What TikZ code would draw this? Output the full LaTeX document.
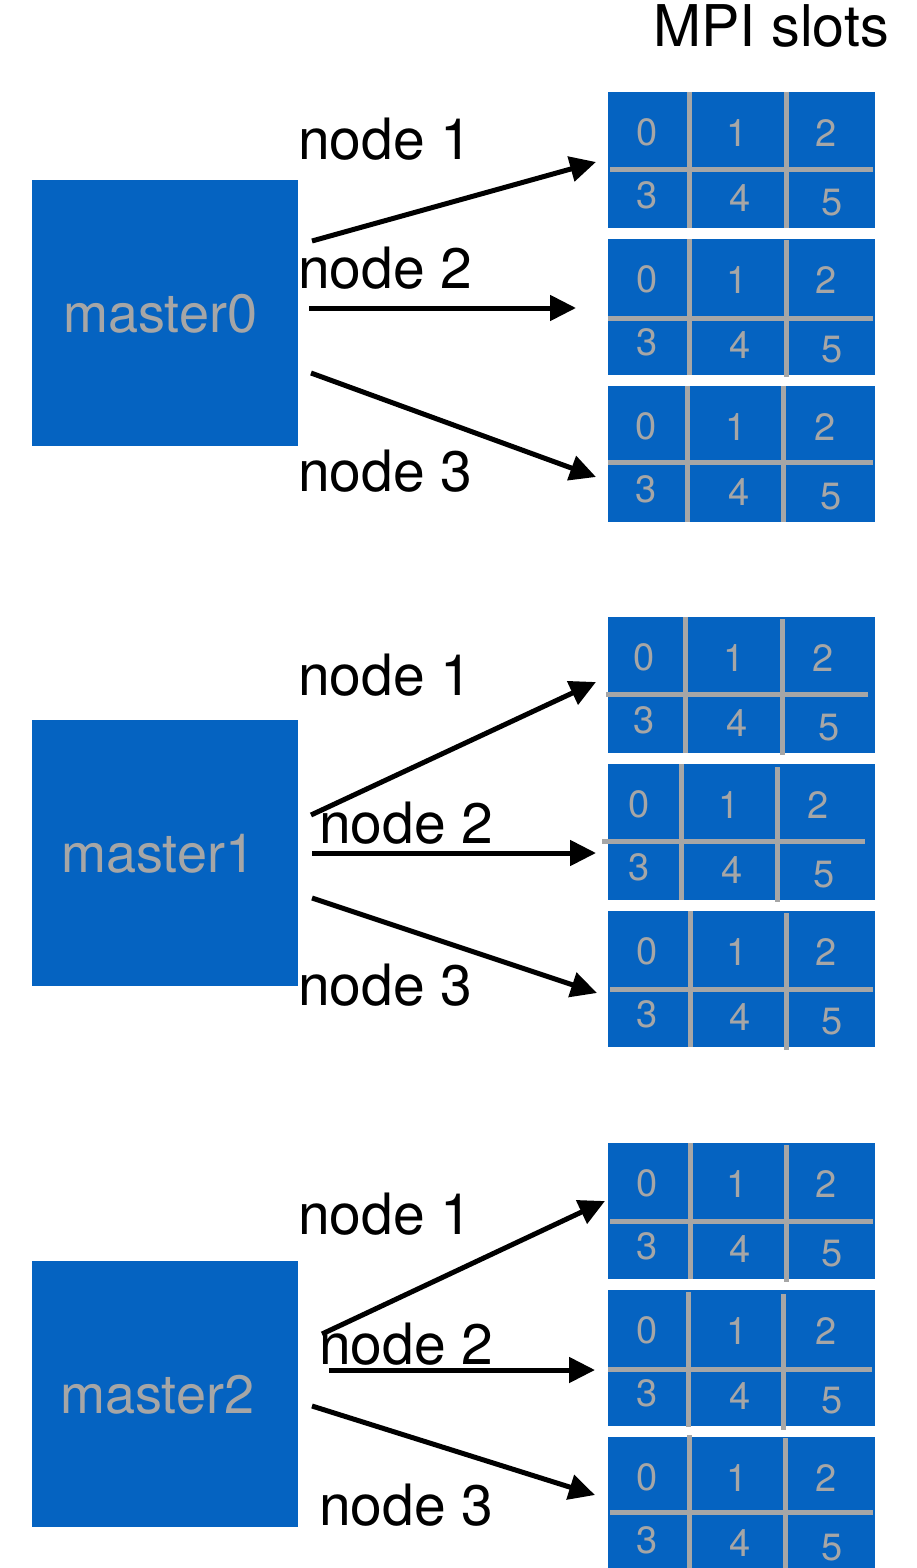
\documentclass[tikz,border=0pt]{standalone}
\usepackage{fontspec}
\setmainfont{TeX Gyre Heros}
\usetikzlibrary{arrows.meta}
\definecolor{slotblue}{RGB}{5,99,193}
\definecolor{slotgray}{RGB}{166,166,166}

% six slot numbers of one block: #1 block top, #2 horizontal shift, #3 name prefix
\newcommand\slotdigits[3]{%
  \node[digit] (#3n0) at ({647+#2},{#1+40})  {0};
  \node[digit] (#3n1) at ({737+#2},{#1+41})  {1};
  \node[digit] (#3n2) at ({826+#2},{#1+41})  {2};
  \node[digit] (#3n3) at ({647+#2},{#1+103}) {3};
  \node[digit] (#3n4) at ({740+#2},{#1+106}) {4};
  \node[digit] (#3n5) at ({832+#2},{#1+111}) {5};
}

\begin{document}
\begin{tikzpicture}[x=1pt,y=-1pt,
  masterbox/.style={fill=slotblue, draw=none, minimum width=266pt, minimum height=266pt, inner sep=0pt},
  slotbox/.style={fill=slotblue, draw=none, minimum width=267pt, minimum height=136pt, inner sep=0pt},
  mastertext/.style={text=slotgray, font=\fontsize{54}{60}\selectfont, inner sep=0pt, anchor=base west},
  nodelabel/.style={text=black, font=\fontsize{57}{60}\selectfont, inner sep=0pt, anchor=base west},
  digit/.style={text=slotgray, font=\fontsize{38}{40}\selectfont, inner sep=0pt},
  divider/.style={draw=slotgray, line width=5pt},
  arr/.style={draw=black, line width=5pt, -{Triangle[length=26pt,width=25pt]}}
]
\useasboundingbox (0,0) rectangle (916,1568);

% heading
\node[nodelabel, font=\fontsize{57.5}{60}\selectfont] (title) at (653,47) {MPI slots};

% master boxes
\node[masterbox] (m0) at (165,312.5) {};
\node[masterbox] (m1) at (165,853) {};
\node[masterbox] (m2) at (165,1393.5) {};
\node[mastertext] (m0t) at (63,332) {master0};
\node[mastertext] (m1t) at (61,872) {master1};
\node[mastertext] (m2t) at (60,1413) {master2};

% slot blocks
\node[slotbox] (g0b1) at (741.5,160) {};
\node[slotbox] (g0b2) at (741.5,307) {};
\node[slotbox] (g0b3) at (741.5,454) {};
\node[slotbox] (g1b1) at (741.5,685) {};
\node[slotbox] (g1b2) at (741.5,832) {};
\node[slotbox] (g1b3) at (741.5,979) {};
\node[slotbox] (g2b1) at (741.5,1211) {};
\node[slotbox] (g2b2) at (741.5,1358) {};
\fill[slotblue] (608,1437) rectangle (875,1568);

% dividers inside the blocks
\draw[divider] (610,169.5) -- (873,169.5);
\draw[divider] (689,92) -- (689,228);
\draw[divider] (786,92) -- (786,228);

\draw[divider] (608,318) -- (873,318);
\draw[divider] (689,239) -- (689,375);
\draw[divider] (786,240) -- (786,377);

\draw[divider] (608,462) -- (873,462);
\draw[divider] (687,386) -- (687,522);
\draw[divider] (783,386) -- (783,522);

\draw[divider] (606,694) -- (868,694);
\draw[divider] (685,617) -- (685,753);
\draw[divider] (782,619) -- (782,755);

\draw[divider] (602,841) -- (865,841);
\draw[divider] (681,764) -- (681,900);
\draw[divider] (777,767) -- (777,902);

\draw[divider] (610,989) -- (873,989);
\draw[divider] (690,911) -- (690,1047);
\draw[divider] (786,913) -- (786,1050);

\draw[divider] (610,1221) -- (873,1221);
\draw[divider] (690,1143) -- (690,1279);
\draw[divider] (786,1145) -- (786,1282);

\draw[divider] (608,1369) -- (872,1369);
\draw[divider] (688,1292) -- (688,1427);
\draw[divider] (783,1294) -- (783,1430);

\draw[divider] (610,1512) -- (873,1512);
\draw[divider] (689,1435) -- (689,1568);
\draw[divider] (785,1438) -- (785,1568);

% slot numbers
\slotdigits{92}{0}{a}
\slotdigits{239}{0}{b}
\slotdigits{386}{-1}{c}
\slotdigits{617}{-3}{d}
\slotdigits{764}{-8}{e}
\slotdigits{911}{0}{f}
\slotdigits{1143}{0}{g}
\slotdigits{1290}{0}{h}
\slotdigits{1437}{0}{i}

% node labels
\node[nodelabel] (l01) at (298,160) {node 1};
\node[nodelabel] (l02) at (298,288) {node 2};
\node[nodelabel] (l03) at (298,491) {node 3};
\node[nodelabel] (l11) at (298,695) {node 1};
\node[nodelabel] (l12) at (319,843) {node 2};
\node[nodelabel] (l13) at (298,1005) {node 3};
\node[nodelabel] (l21) at (298,1234) {node 1};
\node[nodelabel] (l22) at (319,1364) {node 2};
\node[nodelabel] (l23) at (319,1525) {node 3};

% arrow ends
\coordinate (s01) at (312,241);  \coordinate (e01) at (596,162);
\coordinate (s02) at (309,308);  \coordinate (e02) at (576,308);
\coordinate (s03) at (311,373);  \coordinate (e03) at (596,477);
\coordinate (s11) at (311,815);  \coordinate (e11) at (596,682);
\coordinate (s12) at (312,853);  \coordinate (e12) at (596,853);
\coordinate (s13) at (312,898);  \coordinate (e13) at (597,993);
\coordinate (s21) at (322,1334); \coordinate (e21) at (605,1201);
\coordinate (s22) at (329,1370); \coordinate (e22) at (595,1370);
\coordinate (s23) at (312,1406); \coordinate (e23) at (595,1495);

% arrows from each master to its three nodes
\draw[arr] (s01) -- (e01);
\draw[arr] (s02) -- (e02);
\draw[arr] (s03) -- (e03);
\draw[arr] (s11) -- (e11);
\draw[arr] (s12) -- (e12);
\draw[arr] (s13) -- (e13);
\draw[arr] (s21) -- (e21);
\draw[arr] (s22) -- (e22);
\draw[arr] (s23) -- (e23);
\end{tikzpicture}
\end{document}
